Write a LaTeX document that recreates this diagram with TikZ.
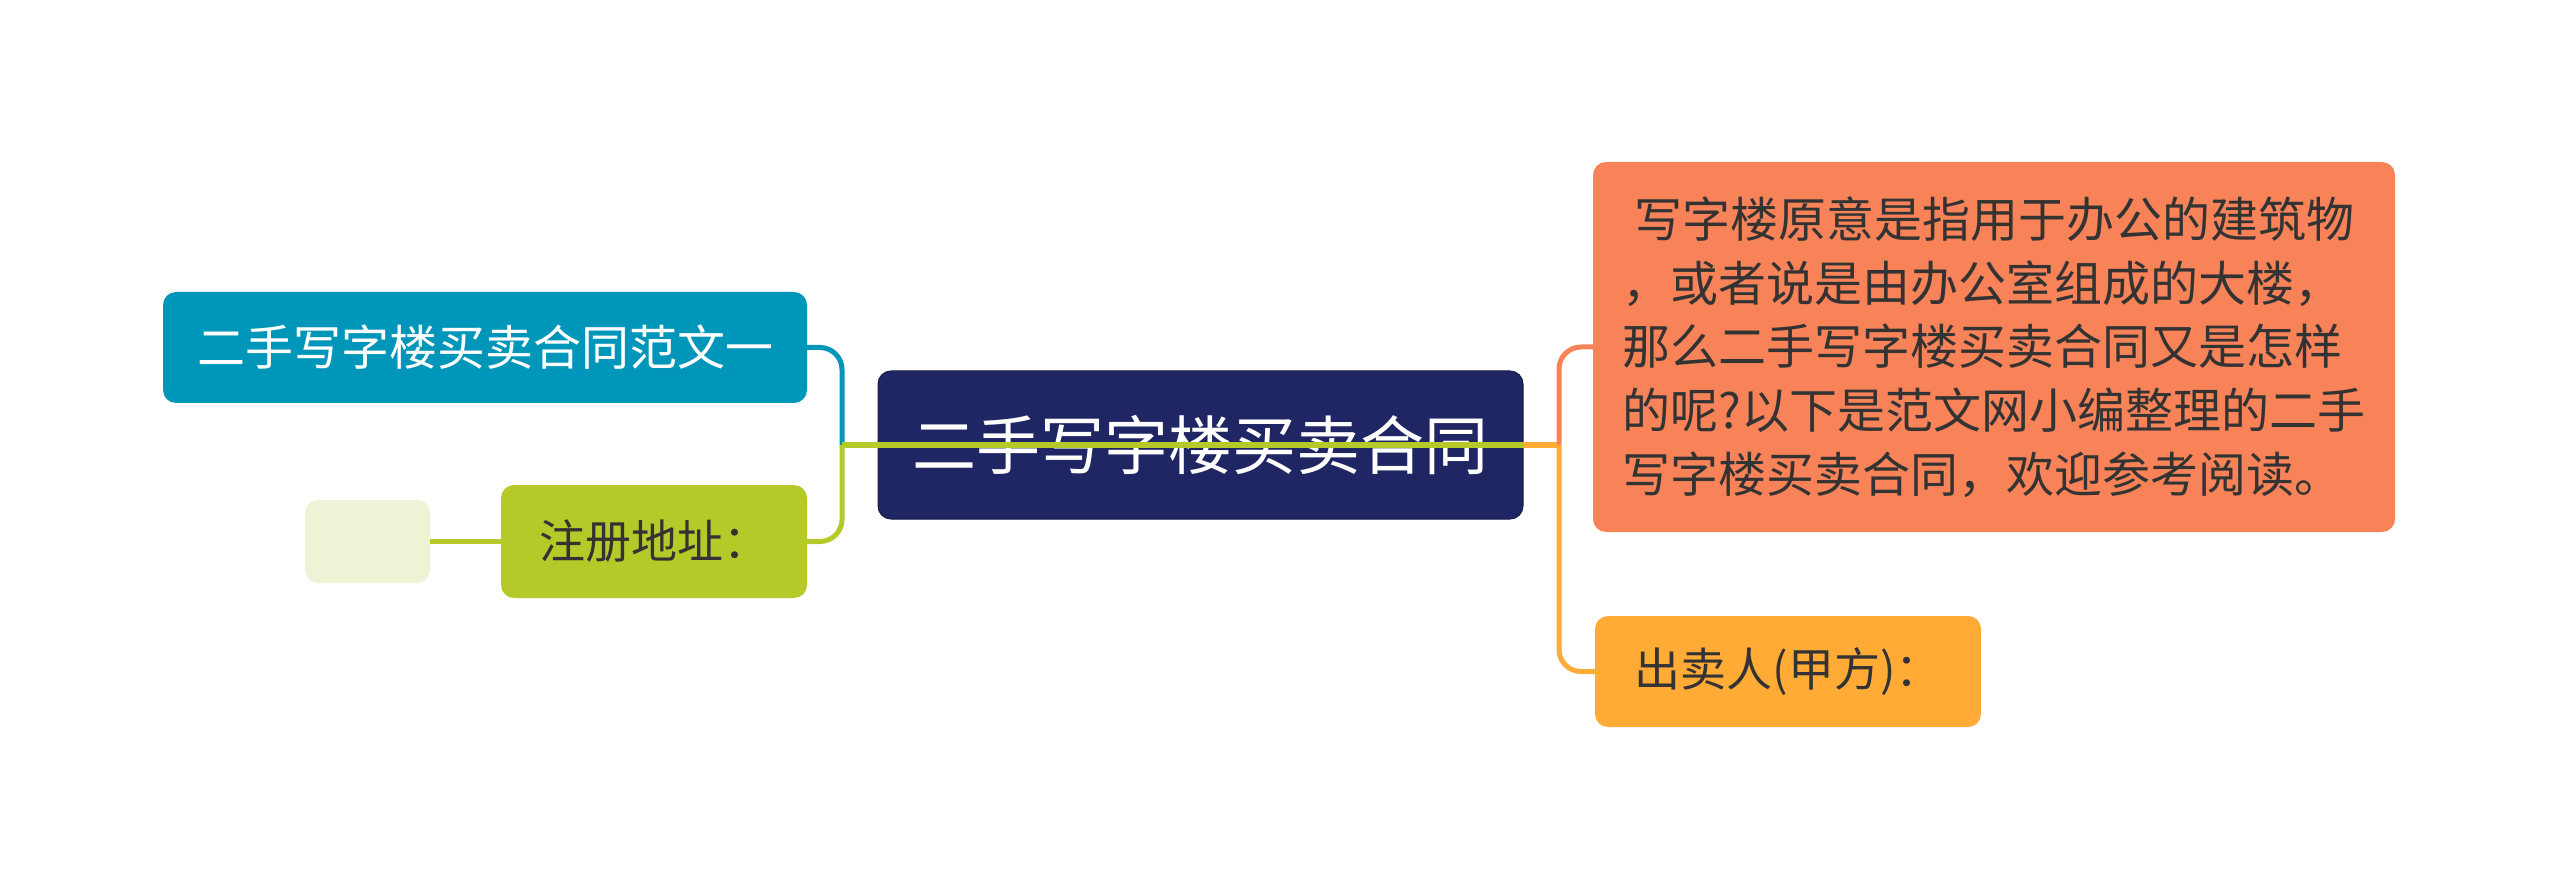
\documentclass[tikz,border=0pt]{standalone}
\usepackage{fontspec}
\setmainfont{Noto Sans CJK SC}
\definecolor{navy}{RGB}{31,38,99}
\definecolor{tealc}{RGB}{0,150,185}
\definecolor{leaf}{RGB}{181,201,40}
\definecolor{paleleaf}{RGB}{239,243,213}
\definecolor{coral}{RGB}{248,131,88}
\definecolor{amber}{RGB}{255,171,54}
\definecolor{ink}{RGB}{51,51,51}
\tikzset{
  box/.style={rectangle, rounded corners=13pt, inner sep=0pt, align=center},
  link/.style={line width=5pt, rounded corners=22pt},
}
\begin{document}
\begin{tikzpicture}[x=1pt,y=-1pt]
\useasboundingbox[fill=white] (0,0) rectangle (2560,890);
\node[box, fill=navy, draw=navy!70!black, line width=1pt, minimum width=645pt, minimum height=148pt, text=white, font=\fontsize{64}{70}\selectfont] (root) at (1200.5,445) {二手写字楼买卖合同};
\node[box, fill=tealc, minimum width=644pt, minimum height=111pt, text=white, font=\fontsize{48}{56}\selectfont] (fan) at (485,347.5) {二手写字楼买卖合同范文一};
\node[box, fill=leaf, minimum width=306pt, minimum height=113pt, text=ink, font=\fontsize{46}{56}\selectfont] (addr) at (654,541.5) {注册地址：};
\node[box, fill=paleleaf, minimum width=125pt, minimum height=83pt] (empty) at (367.5,541.5) {};
\node[box, fill=coral, minimum width=802pt, minimum height=370pt, text=ink, align=left, font=\fontsize{48}{63.7}\selectfont] (desc) at (1994,347) {\hspace*{12pt}写字楼原意是指用于办公的建筑物\\，或者说是由办公室组成的大楼，\\那么二手写字楼买卖合同又是怎样\\的呢?以下是范文网小编整理的二手\\写字楼买卖合同，欢迎参考阅读。};
\node[box, fill=amber, minimum width=386pt, minimum height=111pt, text=ink, font=\fontsize{46}{56}\selectfont] (seller) at (1788,671.5) {出卖人(甲方)：};
\coordinate (jl) at (842,445);
\coordinate (jr) at (1559,445);
\draw[link, tealc] (jl) |- (fan.east);
\draw[link, leaf] (jl) |- (addr.east);
\draw[link, leaf] (jl) -- (root.east);
\draw[link, amber] (root.east) -- (jr);
\draw[link, coral] (jr) |- (desc.west);
\draw[link, amber] (jr) |- (seller.west);
\draw[link, leaf] (addr.west) -- (empty.east);
\end{tikzpicture}
\end{document}
